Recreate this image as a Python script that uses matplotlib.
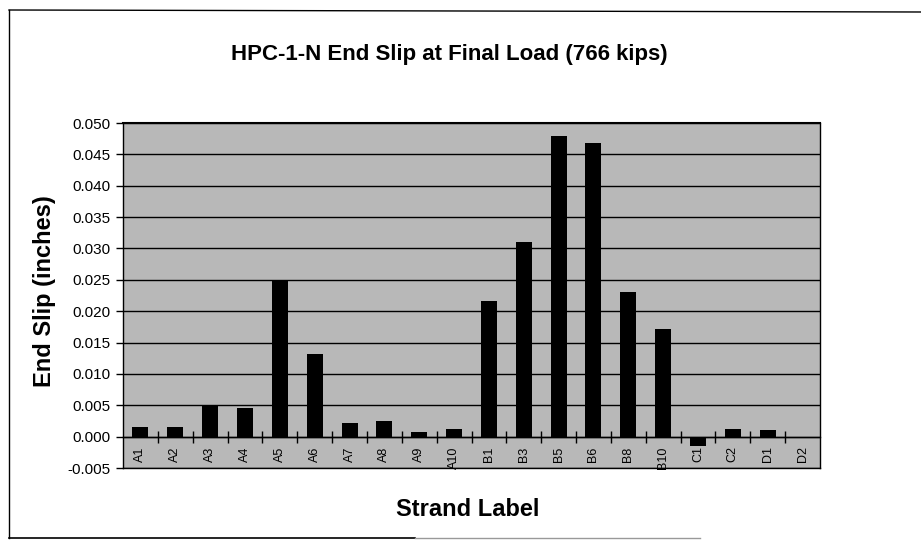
import numpy as np
import matplotlib.pyplot as plt
from matplotlib.lines import Line2D

plt.rcParams['font.family'] = ['Liberation Sans', 'DejaVu Sans']

# strand labels and end slip values (inches)
strands = ["A1", "A2", "A3", "A4", "A5", "A6", "A7", "A8", "A9", "A10",
           "B1", "B3", "B5", "B6", "B8", "B10", "C1", "C2", "D1", "D2"]
slip = [0.0015, 0.0015, 0.0050, 0.0046, 0.0250, 0.0131, 0.0022, 0.0025, 0.0007, 0.0013,
        0.0216, 0.0310, 0.0479, 0.0468, 0.0230, 0.0171, -0.0015, 0.0013, 0.0011, 0.0]
yticks = np.arange(-0.005, 0.0501, 0.005)

fig = plt.figure(figsize=(9.21, 5.41), dpi=100)
ax = fig.add_axes([0.1336, 0.1349, 0.7567, 0.6377])
ax.set_facecolor('#b8b8b8')

x = np.arange(len(strands))
ax.bar(x, slip, width=0.46, color='black', zorder=3)

ax.set_xlim(-0.5, len(strands) - 0.5)
ax.set_ylim(-0.005, 0.050)
ax.set_yticks(yticks)
ax.set_yticklabels(["%.3f" % v for v in yticks])
ax.tick_params(axis='y', direction='out', length=5, width=1, labelsize=11, pad=4)
ax.set_xticks([])
ax.grid(axis='y', color='black', linewidth=1, zorder=1)
ax.set_axisbelow(True)
for s in ax.spines.values():
    s.set_linewidth(1)
ax.spines['top'].set_linewidth(1.5)

# category axis sits at zero
zero_pos = 0.005 / 0.055
sec = ax.secondary_xaxis(zero_pos)
sec.spines['bottom'].set_linewidth(1)
sec.set_xticks(x[:-1] + 0.5)
sec.set_xticklabels([])
sec.tick_params(which='major', direction='inout', length=8, width=1)
sec.set_xticks(x, strands, minor=True)
sec.tick_params(which='minor', length=0, labelsize=9, labelrotation=90, pad=7)

fig.text(0.4875, 0.900, "HPC-1-N End Slip at Final Load (766 kips)",
         ha='center', va='center', fontsize=16, fontweight='bold')
fig.text(0.048, 0.462, "End Slip (inches)", ha='center', va='center',
         rotation=90, fontsize=17, fontweight='bold')
fig.text(0.508, 0.059, "Strand Label", ha='center', va='center',
         fontsize=17, fontweight='bold')

# outer chart border (scan shows left, top and part of the bottom)
W, H = 921.0, 541.0
fig.lines.append(Line2D([9 / W, 9 / W], [1 - 10 / H, 1 - 538 / H],
                        transform=fig.transFigure, color='black', linewidth=1))
fig.lines.append(Line2D([9 / W, 1.0], [1 - 10 / H, 1 - 12 / H],
                        transform=fig.transFigure, color='black', linewidth=1))
fig.lines.append(Line2D([9 / W, 415 / W], [1 - 538 / H, 1 - 538 / H],
                        transform=fig.transFigure, color='black', linewidth=1.2))
fig.lines.append(Line2D([415 / W, 700 / W], [1 - 538 / H, 1 - 538 / H],
                        transform=fig.transFigure, color='#999999', linewidth=1))

fig.savefig("out.png", dpi=100)
